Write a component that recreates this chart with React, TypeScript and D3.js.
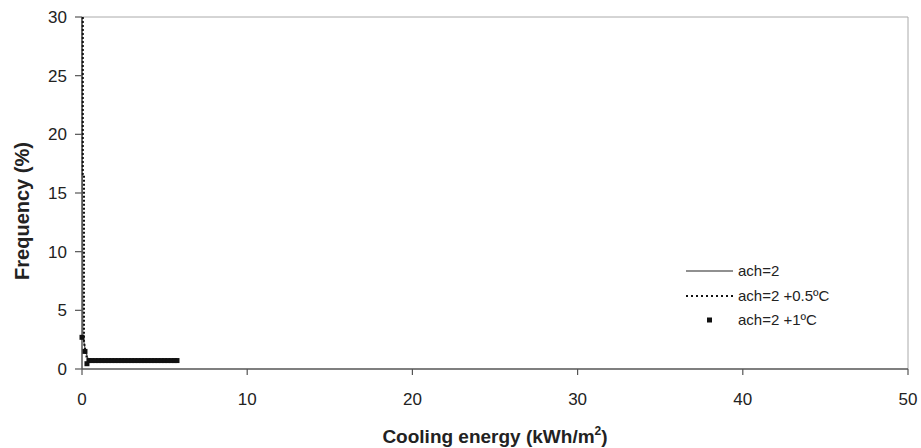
import React from "react";
import * as d3 from "d3";

const xTicks = [0, 10, 20, 30, 40, 50];
const yTicks = [0, 5, 10, 15, 20, 25, 30];

// ach=2 (solid)
const s1X = [0, 0.02, 0.05, 0.2, 0.4, 1.0, 2.0, 3.0, 4.0, 5.0, 5.8];
const s1Y = [30, 17, 2.8, 1.6, 0.7, 0.7, 0.7, 0.7, 0.7, 0.7, 0.7];
// ach=2 +0.5ºC (dotted)
const s2X = [0.05, 0.05, 0.12, 0.12, 0.2, 0.3, 0.45, 1.0, 2.0, 3.0, 4.0, 5.0, 5.8];
const s2Y = [30, 16.6, 16.6, 2.4, 1.5, 0.9, 0.7, 0.7, 0.7, 0.7, 0.7, 0.7, 0.7];
// ach=2 +1ºC (square markers)
const s3X = [0.0, 0.18, 0.3, 0.42, 0.6, 0.8, 1.0, 1.2, 1.4, 1.6, 1.8, 2.0, 2.2, 2.4, 2.6, 2.8, 3.0, 3.2, 3.4, 3.6, 3.8, 4.0, 4.2, 4.4, 4.6, 4.8, 5.0, 5.2, 5.4, 5.6, 5.75];
const s3Y = [2.7, 1.5, 0.45, 0.72, 0.72, 0.72, 0.72, 0.72, 0.72, 0.72, 0.72, 0.72, 0.72, 0.72, 0.72, 0.72, 0.72, 0.72, 0.72, 0.72, 0.72, 0.72, 0.72, 0.72, 0.72, 0.72, 0.72, 0.72, 0.72, 0.72, 0.72];

const legendLabels = ["ach=2", "ach=2 +0.5ºC", "ach=2 +1ºC"];

export default function App() {
  const W = 921, H = 448;
  const x = d3.scaleLinear().domain([0, 50]).range([82, 908]);
  const y = d3.scaleLinear().domain([0, 30]).range([369, 17]);
  const line = d3.line<[number, number]>().x(d => x(d[0])).y(d => y(d[1]));
  const d1 = line(s1X.map((v, i) => [v, s1Y[i]]))!;
  const d2 = line(s2X.map((v, i) => [v, s2Y[i]]))!;
  const font = "Liberation Sans, Arial, sans-serif";
  const legendRows = [271, 296, 320];
  return (
    <svg width={W} height={H} style={{ position: "absolute", left: 0, top: 0, background: "#fff" }} fontFamily={font}>
      {/* frame */}
      <line x1={x(0)} x2={x(50)} y1={y(30)} y2={y(30)} stroke="#aaa" strokeWidth={1} />
      <line x1={x(50)} x2={x(50)} y1={y(30)} y2={y(0)} stroke="#aaa" strokeWidth={1} />
      {/* axes */}
      <line x1={x(0)} x2={x(0)} y1={y(30)} y2={y(0)} stroke="#555" strokeWidth={1.5} />
      <line x1={x(0)} x2={x(50)} y1={y(0)} y2={y(0)} stroke="#555" strokeWidth={1.5} />
      {yTicks.map(t => (
        <g key={"y" + t}>
          <line x1={x(0) - 7} x2={x(0)} y1={y(t)} y2={y(t)} stroke="#555" strokeWidth={1.2} />
          <text x={x(0) - 15} y={y(t)} dy="0.35em" textAnchor="end" fontSize={17} fill="#222">{t}</text>
        </g>
      ))}
      {xTicks.map(t => (
        <g key={"x" + t}>
          <line x1={x(t)} x2={x(t)} y1={y(0)} y2={y(0) + 6} stroke="#555" strokeWidth={1.2} />
          <text x={x(t)} y={405} textAnchor="middle" fontSize={17} fill="#222">{t}</text>
        </g>
      ))}
      {/* series */}
      <path d={d1} fill="none" stroke="#555" strokeWidth={1.2} />
      <path d={d2} fill="none" stroke="#111" strokeWidth={2} strokeDasharray="2,2" />
      {s3X.map((v, i) => (
        <rect key={"m" + i} x={x(v) - 2.5} y={y(s3Y[i]) - 2.5} width={5} height={5} fill="#111" />
      ))}
      {/* legend */}
      <line x1={686} x2={733} y1={legendRows[0]} y2={legendRows[0]} stroke="#222" strokeWidth={1.2} />
      <line x1={686} x2={733} y1={legendRows[1]} y2={legendRows[1]} stroke="#111" strokeWidth={2} strokeDasharray="2,3" />
      <rect x={707} y={legendRows[2] - 2.5} width={5} height={5} fill="#111" />
      {legendLabels.map((l, i) => (
        <text key={l} x={738} y={legendRows[i]} dy="0.35em" fontSize={15} fill="#222">{l}</text>
      ))}
      {/* titles */}
      <text transform={`translate(29,211) rotate(-90)`} textAnchor="middle" fontSize={20} fontWeight="bold" fill="#222">Frequency (%)</text>
      <text x={495} y={443} textAnchor="middle" fontSize={19} fontWeight="bold" fill="#222">
        Cooling energy (kWh/m<tspan dy={-8} fontSize={12}>2</tspan><tspan dy={8}>)</tspan>
      </text>
    </svg>
  );
}
